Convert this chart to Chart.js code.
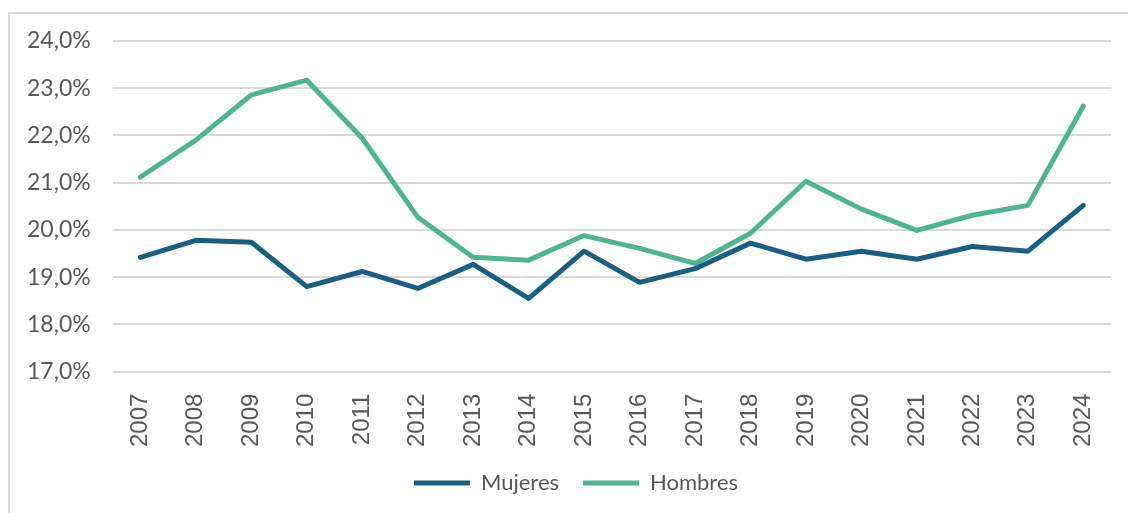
<!DOCTYPE html>
<html>
<head>
<meta charset="utf-8">
<script src="https://cdn.jsdelivr.net/npm/chart.js@4.4.1/dist/chart.umd.min.js"></script>
<style>
  html, body { margin: 0; padding: 0; background: #fff; }
  #wrap { position: relative; width: 1128px; height: 513px; }
  #frame { position: absolute; left: 8px; top: 12px; right: 0; bottom: 0;
           border-left: 2px solid #d9d9d9; border-top: 2px solid #d9d9d9; }
  canvas { position: absolute; left: 0; top: 0; }
</style>
</head>
<body>
<div id="wrap">
  <div id="frame"></div>
  <canvas id="chart" width="1128" height="513"></canvas>
</div>
<script>
const years = ['2007', '2008', '2009', '2010', '2011', '2012', '2013', '2014', '2015',
               '2016', '2017', '2018', '2019', '2020', '2021', '2022', '2023', '2024'];
const mujeres = [19.42, 19.78, 19.74, 18.80, 19.12, 18.76, 19.27, 18.55, 19.55,
                 18.89, 19.18, 19.72, 19.38, 19.55, 19.38, 19.65, 19.55, 20.52];
const hombres = [21.12, 21.90, 22.86, 23.17, 21.94, 20.27, 19.42, 19.36, 19.88,
                 19.61, 19.29, 19.93, 21.03, 20.44, 19.99, 20.31, 20.52, 22.62];

// nudge the legend to the right, like in the original
const legendShift = {
    id: 'legendShift',
    afterLayout(chart) {
        if (chart.legend) {
            chart.legend.left += 18;
            chart.legend.right += 18;
        }
    }
};

document.addEventListener('DOMContentLoaded', function() {
    const ctx = document.getElementById('chart').getContext('2d');

    new Chart(ctx, {
        type: 'line',
        data: {
            labels: years,
            datasets: [{
                label: 'Mujeres',
                data: mujeres,
                borderColor: '#185f83',
                backgroundColor: '#185f83',
                borderWidth: 5,
                borderCapStyle: 'round',
                borderJoinStyle: 'round',
                pointRadius: 0,
                tension: 0
            }, {
                label: 'Hombres',
                data: hombres,
                borderColor: '#4db68f',
                backgroundColor: '#4db68f',
                borderWidth: 5,
                borderCapStyle: 'round',
                borderJoinStyle: 'round',
                pointRadius: 0,
                tension: 0
            }]
        },
        options: {
            responsive: false,
            animation: false,
            layout: { padding: { left: 5, right: 17, top: 41, bottom: 9 } },
            scales: {
                x: {
                    offset: true,
                    grid: { display: false },
                    border: { display: false },
                    afterFit: function(scale) { scale.height -= 13; },
                    ticks: {
                        minRotation: 90,
                        maxRotation: 90,
                        padding: 14,
                        color: '#595959',
                        font: { family: 'Liberation Sans', size: 24 }
                    }
                },
                y: {
                    min: 17,
                    max: 24,
                    grid: { color: '#d9d9d9', lineWidth: 2, drawTicks: false },
                    border: { display: false },
                    ticks: {
                        stepSize: 1,
                        padding: 22,
                        color: '#595959',
                        font: { family: 'Lato', size: 23 },
                        callback: function(v) { return v.toFixed(1).replace('.', ',') + '%'; }
                    }
                }
            },
            plugins: {
                legend: {
                    position: 'bottom',
                    labels: {
                        usePointStyle: true,
                        pointStyle: 'line',
                        pointStyleWidth: 56,
                        boxHeight: 8,
                        padding: 24,
                        color: '#595959',
                        font: { family: 'Lato', size: 22 }
                    }
                },
                tooltip: { enabled: false }
            }
        },
        plugins: [legendShift]
    });
});
</script>
</body>
</html>
